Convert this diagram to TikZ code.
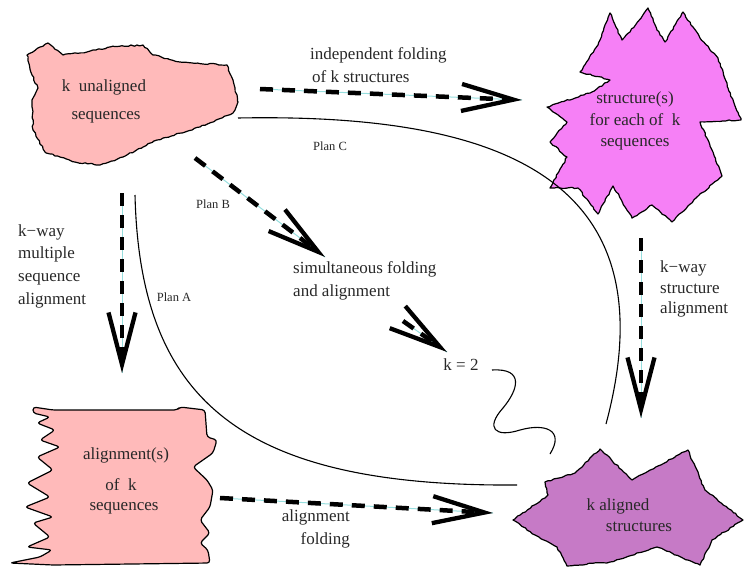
\documentclass[tikz,border=0pt]{standalone}
\usepackage{fontspec}
\setmainfont{Liberation Serif}
\usetikzlibrary{arrows.meta,decorations.pathmorphing}
\definecolor{pinkfill}{RGB}{255,186,186}
\definecolor{magfill}{RGB}{246,128,246}
\definecolor{purfill}{RGB}{198,122,198}
\definecolor{cyanline}{RGB}{150,222,222}
\definecolor{txt}{RGB}{40,40,40}
\begin{document}
\pgfmathsetseed{7}
\begin{tikzpicture}[x=1pt,y=-1pt,
  blob/.style={draw=black, line width=1.2pt, line join=round, decorate,
    decoration={random steps,segment length=3pt,amplitude=0.7pt}},
  softblob/.style={draw=black, line width=1.2pt, line join=round, rounded corners=3pt},
  lbl/.style={font=\fontsize{17}{22.5}\selectfont, text=txt, inner sep=0pt},
  plan/.style={font=\fontsize{12.5}{15}\selectfont, text=txt, inner sep=0pt},
  flow/.style={line width=4.5pt, dash pattern=on 13pt off 9pt,
    -{Straight Barb[length=52pt,width=27pt,line width=4.3pt]},
    preaction={draw=cyanline, line width=1pt, solid, arrows=-}},
  curve/.style={line width=1.1pt}]
\useasboundingbox (0,0) rectangle (745,570);

% shapes
\path[blob, fill=pinkfill] (27,55) -- (48,43) -- (63,55) -- (87,52) -- (110,47) -- (143,45) -- (153,55) -- (180,62) -- (227,65) -- (233,80) -- (238,102) -- (233,113) -- (200,127) -- (157,140) -- (123,157) -- (100,165) -- (75,162) -- (45,152) -- (33,130) -- (32,100) -- (38,88) -- (32,75) -- cycle;

\path[blob, fill=magfill] (610,13) -- (622,40) -- (630,32) -- (648,8) -- (657,30) -- (665,42) -- (683,12) -- (700,38) -- (718,58) -- (728,88) -- (741,120) -- (700,122) -- (712,150) -- (722,176) -- (696,198) -- (672,222) -- (652,205) -- (632,218) -- (613,186) -- (598,214) -- (578,188) -- (550,188) -- (567,157) -- (550,142) -- (567,122) -- (547,107) -- (592,92) -- (610,80) -- (580,72) -- (598,45) -- cycle;

\path[softblob, fill=pinkfill] (33,407) -- (53,410) -- (177,410) -- (180,407) -- (205,410) -- (207,437) -- (217,440) -- (213,453) -- (193,467) -- (207,480) -- (213,490) -- (210,507) -- (200,520) -- (210,533) -- (200,543) -- (208,550) -- (210,563) -- (53,565) -- (10,563) -- (40,557) -- (52,550) -- (27,547) -- (50,537) -- (33,523) -- (53,517) -- (25,507) -- (50,497) -- (27,483) -- (53,470) -- (37,457) -- (60,447) -- (40,440) -- (55,430) -- (37,423) -- (50,417) -- (33,413) -- cycle;

\path[blob, fill=purfill] (513,520) -- (548,495) -- (545,482) -- (575,473) -- (600,449) -- (632,480) -- (688,450) -- (705,490) -- (743,520) -- (712,540) -- (700,565) -- (657,547) -- (610,562) -- (567,566) -- (557,547) -- (535,535) -- cycle;

% coordinates
\coordinate (a1s) at (260,89);  \coordinate (a1e) at (522,100);
\coordinate (a2s) at (195,158); \coordinate (a2e) at (325,257);
\coordinate (a3s) at (122,193); \coordinate (a3e) at (122,373);
\coordinate (a4s) at (403,321); \coordinate (a4e) at (447,352);
\coordinate (a5s) at (641,238); \coordinate (a5e) at (641,418);
\coordinate (a6s) at (220,498); \coordinate (a6e) at (493,513);
\coordinate (pcs) at (238,118); \coordinate (pce) at (606,424);
\coordinate (pas) at (135,195); \coordinate (pae) at (517,485);
\coordinate (ws) at (492,370);  \coordinate (we) at (550,454);

% curves
\draw[curve] (pcs) .. controls (500,113) and (672,178) .. (pce);
\draw[curve] (pas) .. controls (140,400) and (240,487) .. (pae);
\draw[curve] (ws) .. controls (525,368) and (518,390) .. (503,408)
  .. controls (485,428) and (495,438) .. (520,430)
  .. controls (545,423) and (565,430) .. (we);

% arrows
\draw[flow] (a1s) -- (a1e);
\draw[flow] (a2s) -- (a2e);
\draw[flow] (a3s) -- (a3e);
\draw[flow] (a4s) -- (a4e);
\draw[flow] (a5s) -- (a5e);
\draw[flow] (a6s) -- (a6e);

% labels
\node[lbl] (ua1) at (104,87) {k\ \ unaligned};
\node[lbl] (ua2) at (106,117) {sequences};
\node[lbl, anchor=west] (if1) at (310,55) {independent folding};
\node[lbl, anchor=west] (if2) at (312,77) {of k structures};
\node[lbl, align=center, font=\fontsize{17}{21.5}\selectfont] (st) at (635,121) {structure(s)\\for each of\ \ k\\sequences};
\node[plan] (pc) at (330,146) {Plan C};
\node[plan] (pb) at (213,204) {Plan B};
\node[plan] (pa) at (174,297) {Plan A};
\node[lbl, align=left, anchor=west, font=\fontsize{17}{22.7}\selectfont] (kw) at (18,266) {k−way\\multiple\\sequence\\alignment};
\node[lbl, align=left, anchor=west] (sf) at (293,281) {simultaneous folding\\and alignment};
\node[lbl] (k2) at (461,365) {k = 2};
\node[lbl, align=left, anchor=west, font=\fontsize{17}{20.5}\selectfont] (sa) at (660,289) {k−way\\structure\\alignment};
\node[lbl] (al1) at (126,455) {alignment(s)};
\node[lbl] (al2) at (121,485) {of\ \ k};
\node[lbl] (al3) at (124,508) {sequences};
\node[lbl, align=right, anchor=east] (af) at (350,529) {alignment\\folding};
\node[lbl] (ka1) at (618,506) {k aligned};
\node[lbl] (ka2) at (639,527) {structures};
\end{tikzpicture}
\end{document}
